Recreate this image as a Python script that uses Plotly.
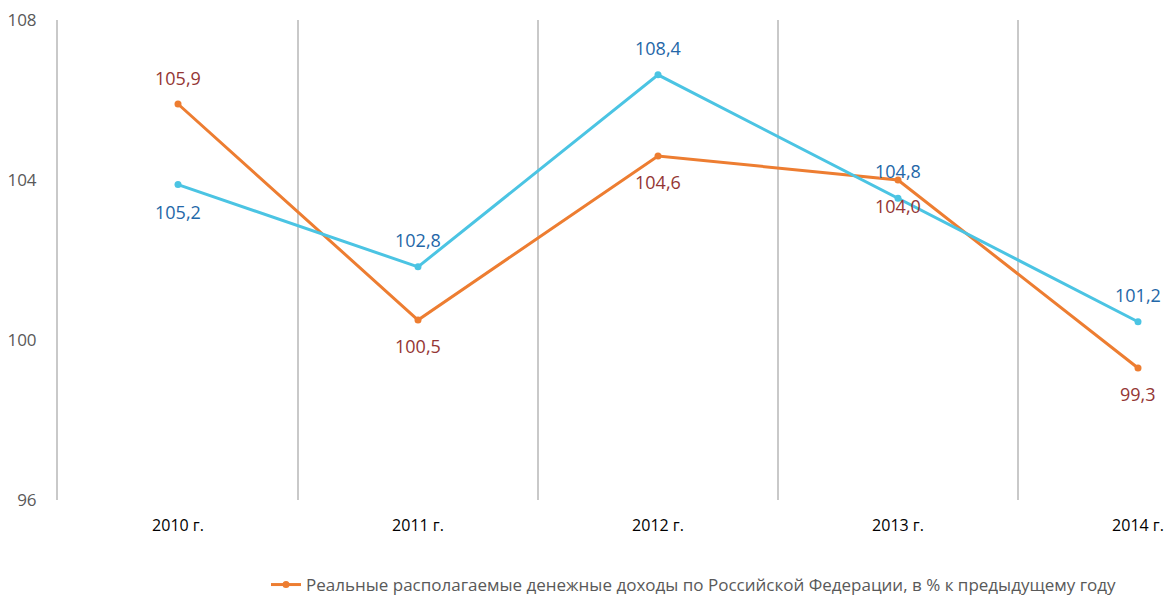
import plotly.graph_objects as go

years = ["2010 г.", "2011 г.", "2012 г.", "2013 г.", "2014 г."]
income = [105.9, 100.5, 104.6, 104.0, 99.3]
second = [105.2, 102.8, 108.4, 104.8, 101.2]
income_name = "Реальные располагаемые денежные доходы по Российской Федерации, в % к предыдущему году"
income_pos = [1, -1, -1, -1, -1]
second_pos = [-1, 1, 1, 1, 1]

def fmt(v):
    return f"{v:.1f}".replace(".", ",")

xs = list(range(len(years)))
orange = "#ED7D31"
blue = "#4BC4E3"
grid = "#C9C9C9"

fig = go.Figure()
fig.add_trace(go.Scatter(
    x=xs, y=income, name=income_name, mode="lines+markers",
    line=dict(color=orange, width=3), marker=dict(color=orange, size=7),
    yaxis="y"))
fig.add_trace(go.Scatter(
    x=xs, y=second, name="", mode="lines+markers", showlegend=False,
    line=dict(color=blue, width=3), marker=dict(color=blue, size=7),
    yaxis="y2"))

for x, v, p in zip(xs, income, income_pos):
    fig.add_annotation(x=x, y=v, xref="x", yref="y", text=fmt(v), showarrow=False,
                       yshift=26 * p, font=dict(color="#943634", size=18, family="Open Sans"))
for x, v, p in zip(xs, second, second_pos):
    fig.add_annotation(x=x, y=v, xref="x", yref="y2", text=fmt(v), showarrow=False,
                       yshift=27 * p, font=dict(color="#2467A8", size=18, family="Open Sans"))

fig.update_layout(
    width=1166, height=598,
    margin=dict(l=58, r=0, t=20, b=98),
    paper_bgcolor="white", plot_bgcolor="white",
    font=dict(family="Open Sans", size=16, color="#595959"),
    xaxis=dict(
        range=[-0.5, -0.5 + 1108 / 240], tickvals=xs, ticktext=years,
        showgrid=False, zeroline=False, showline=False, ticks="", automargin=False,
        tickfont=dict(color="#000000", size=16), ticklabelstandoff=14,
        minor=dict(tick0=-0.5, dtick=1, showgrid=True, gridcolor=grid, gridwidth=2, ticks=""),
    ),
    yaxis=dict(
        range=[96, 108], tickvals=[96, 100, 104, 108], showgrid=False, zeroline=False,
        showline=True, linecolor=grid, linewidth=2, ticks="", automargin=False,
        tickfont=dict(color="#595959", size=17), ticklabelstandoff=16,
    ),
    yaxis2=dict(range=[96, 110], overlaying="y", side="right", visible=False, automargin=False),
    showlegend=True,
    legend=dict(orientation="h", xref="container", x=266 / 1166, xanchor="left",
                yref="container", y=13 / 598, yanchor="middle",
                font=dict(size=17, color="#595959"), bgcolor="rgba(0,0,0,0)"),
)

fig.write_html("out.html", config={"displayModeBar": False},
               post_script="document.body.style.margin='0';document.body.style.overflow='hidden';")
